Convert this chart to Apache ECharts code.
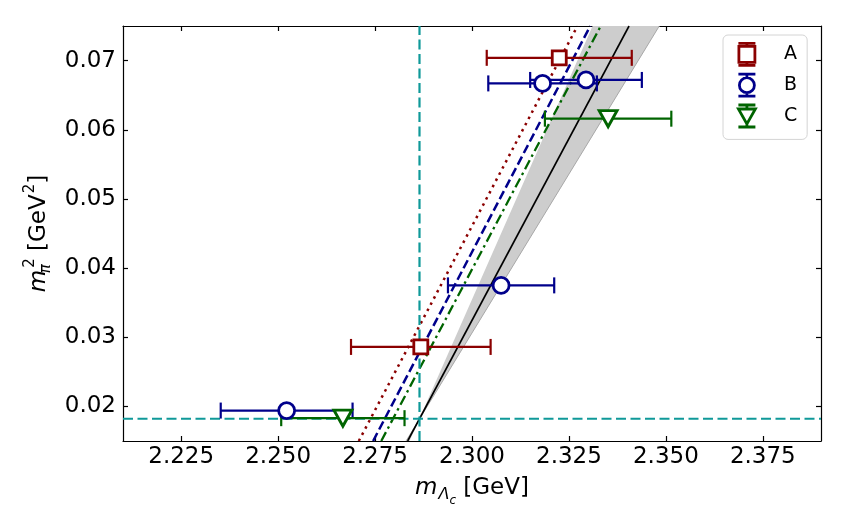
<!DOCTYPE html>
<html>
<head>
<meta charset="utf-8">
<script src="https://cdn.jsdelivr.net/npm/echarts@6/dist/echarts.min.js"></script>
<style>
html,body{margin:0;padding:0;background:#fff;}
#chart{width:847px;height:530px;}
</style>
</head>
<body>
<div id="chart"></div>
<script>
// ---- data ----
const xRange = [2.21, 2.39];
const yRange = [0.015, 0.075];
const xTicks = [2.225, 2.250, 2.275, 2.300, 2.325, 2.350, 2.375];
const yTicks = [0.02, 0.03, 0.04, 0.05, 0.06, 0.07];
// [m_Lambda_c, m_pi^2, x-error]
const seriesA = [[2.2868, 0.0286, 0.0180], [2.3225, 0.0704, 0.0187]];
const seriesB = [[2.2522, 0.0194, 0.0170], [2.3075, 0.0375, 0.0137], [2.3182, 0.0667, 0.0140], [2.3294, 0.0672, 0.0144]];
const seriesC = [[2.2667, 0.0183, 0.0159], [2.3351, 0.0616, 0.0163]];
// fit lines [x, y]
const fitA = [[2.2708, 0.015], [2.3272, 0.075]];
const fitB = [[2.2745, 0.015], [2.3305, 0.075]];
const fitC = [[2.2766, 0.015], [2.3332, 0.075]];
const fitCont = [[2.2834, 0.015], [2.3405, 0.075]];
const bandLeft = [[2.2839, 0.015], [2.3311, 0.075]];
const bandRight = [[2.2830, 0.015], [2.3483, 0.075]];
// physical point
const physX = 2.28646;
const physY = 0.01822;

const cA = '#8b0000', cB = '#00008b', cC = '#006400', cPhys = '#0f9999';
const FONT = 'DejaVu Sans';
const FS = 23;

function errSeries(data, color) {
  return {
    type: 'custom', data: data, z: 3, silent: true,
    renderItem: function (params, api) {
      const x = api.value(0), y = api.value(1), e = api.value(2);
      const p1 = api.coord([x - e, y]), p2 = api.coord([x + e, y]);
      const h = 8, st = {stroke: color, lineWidth: 2.2};
      return {type: 'group', children: [
        {type: 'line', shape: {x1: p1[0], y1: p1[1], x2: p2[0], y2: p2[1]}, style: st},
        {type: 'line', shape: {x1: p1[0], y1: p1[1] - h, x2: p1[0], y2: p1[1] + h}, style: st},
        {type: 'line', shape: {x1: p2[0], y1: p2[1] - h, x2: p2[0], y2: p2[1] + h}, style: st}
      ]};
    }
  };
}
function markerSeries(name, data, color, symbol, size, rotate) {
  return {
    type: 'scatter', name: name, z: 4,
    data: data.map(d => [d[0], d[1]]),
    symbol: symbol, symbolSize: size, symbolRotate: rotate || 0,
    itemStyle: {color: '#fff', borderColor: color, borderWidth: 2.8, opacity: 1}
  };
}
function lineSeries(data, color, type, width) {
  return {
    type: 'line', data: data, showSymbol: false, symbol: 'none', z: 2, silent: true,
    lineStyle: {color: color, width: width || 2.2, type: type, cap: 'butt'}
  };
}

const iconA = 'path://M3.5,1L20.5,1M3.5,23L20.5,23M12,1L12,4M12,20L12,23M4,4L20,4L20,20L4,20Z';
const iconB = 'path://M3.5,1L20.5,1M3.5,23L20.5,23M12,1L12,4.5M12,19.5L12,23M4.5,12A7.5,7.5,0,1,1,19.5,12A7.5,7.5,0,1,1,4.5,12Z';
const iconC = 'path://M3.5,1L20.5,1M3.5,23L20.5,23M12,1L12,5M12,20L12,23M3.5,5L20.5,5L12,20Z';

const axisCommon = {
  axisLine: {onZero: false, lineStyle: {color: '#000', width: 1.2}},
  axisTick: {inside: true, length: 5, lineStyle: {color: '#000', width: 1.2}},
  splitLine: {show: false}
};

const option = {
  animation: false,
  backgroundColor: '#fff',
  grid: {left: 123, right: 26, top: 26, bottom: 89},
  legend: {
    orient: 'vertical', left: 723, top: 35,
    padding: [7, 10, 11, 14], itemGap: 6, itemWidth: 24, itemHeight: 22,
    backgroundColor: 'rgba(255,255,255,0.8)', borderColor: '#d4d4d4', borderWidth: 1, borderRadius: 5,
    textStyle: {fontFamily: FONT, fontSize: 19, color: '#000', padding: [0, 0, 0, 20]},
    data: [
      {name: 'A', icon: iconA, itemStyle: {color: '#fff', borderColor: cA, borderWidth: 2.8}},
      {name: 'B', icon: iconB, itemStyle: {color: '#fff', borderColor: cB, borderWidth: 2.8}},
      {name: 'C', icon: iconC, itemStyle: {color: '#fff', borderColor: cC, borderWidth: 2.8}}
    ]
  },
  xAxis: [
    Object.assign({}, axisCommon, {
      type: 'value', min: xRange[0], max: xRange[1], position: 'bottom',
      axisTick: Object.assign({}, axisCommon.axisTick, {customValues: xTicks}),
      axisLabel: {customValues: xTicks, formatter: v => v.toFixed(3), fontFamily: FONT, fontSize: FS, color: '#000', margin: 5},
      name: '{m|m}{s|Λ}{ss|c}{n| [GeV]}', nameLocation: 'middle', nameGap: 36,
      nameTextStyle: {rich: {
        m: {fontFamily: FONT, fontStyle: 'italic', fontSize: FS, color: '#000', verticalAlign: 'top', padding: [0, 0, 0, 0]},
        s: {fontFamily: FONT, fontStyle: 'italic', fontSize: 16, color: '#000', verticalAlign: 'top', padding: [10, 0, 0, 1]},
        ss: {fontFamily: FONT, fontStyle: 'italic', fontSize: 12, color: '#000', verticalAlign: 'top', padding: [18, 0, 0, 0]},
        n: {fontFamily: FONT, fontSize: FS, color: '#000', verticalAlign: 'top', padding: [0, 0, 0, 0]}
      }}
    }),
    Object.assign({}, axisCommon, {
      type: 'value', min: xRange[0], max: xRange[1], position: 'top',
      axisTick: Object.assign({}, axisCommon.axisTick, {customValues: xTicks}),
      axisLabel: {show: false}
    })
  ],
  yAxis: [
    Object.assign({}, axisCommon, {
      type: 'value', min: yRange[0], max: yRange[1], position: 'left',
      axisTick: Object.assign({}, axisCommon.axisTick, {customValues: yTicks}),
      axisLabel: {customValues: yTicks, formatter: v => v.toFixed(2), fontFamily: FONT, fontSize: FS, color: '#000', margin: 7},
      name: '{m|m}{s|π}{p|2}{n| [GeV}{p|2}{n|]}', nameLocation: 'middle', nameGap: 63, nameRotate: 90,
      nameTextStyle: {rich: {
        m: {fontFamily: FONT, fontStyle: 'italic', fontSize: FS, color: '#000', verticalAlign: 'top', padding: [5, 0, 0, 0]},
        s: {fontFamily: FONT, fontStyle: 'italic', fontSize: 15, color: '#000', verticalAlign: 'top', padding: [16, 0, 0, 1], width: 0.01},
        p: {fontFamily: FONT, fontSize: 15, color: '#000', verticalAlign: 'top', padding: [0, 0, 0, 1]},
        n: {fontFamily: FONT, fontSize: FS, color: '#000', verticalAlign: 'top', padding: [5, 0, 0, 0]}
      }}
    }),
    Object.assign({}, axisCommon, {
      type: 'value', min: yRange[0], max: yRange[1], position: 'right',
      axisTick: Object.assign({}, axisCommon.axisTick, {customValues: yTicks}),
      axisLabel: {show: false}
    })
  ],
  series: [
    {
      type: 'custom', silent: true, z: 1, data: [0],
      renderItem: function (params, api) {
        const poly = [bandLeft[0], bandLeft[1], bandRight[1], bandRight[0]].map(p => api.coord(p));
        const edge = bandRight.map(p => api.coord(p));
        return {type: 'group', children: [
          {type: 'polygon', shape: {points: poly}, style: {fill: '#cdcdcd', stroke: null}},
          {type: 'polyline', shape: {points: edge}, style: {stroke: '#a8a8a8', lineWidth: 1, fill: null}}
        ]};
      }
    },
    lineSeries(fitCont, '#000', 'solid', 1.6),
    lineSeries(fitA, cA, [2.5, 4.5], 2.5),
    lineSeries(fitB, cB, [9, 4], 2.5),
    lineSeries(fitC, cC, [10, 4, 2.5, 4], 2.3),
    lineSeries([[physX, yRange[0]], [physX, yRange[1]]], cPhys, [10, 4.5], 2.2),
    lineSeries([[xRange[0], physY], [xRange[1], physY]], cPhys, [10, 4.5], 2.2),
    errSeries(seriesA, cA),
    errSeries(seriesB, cB),
    errSeries(seriesC, cC),
    markerSeries('A', seriesA, cA, 'rect', 14),
    markerSeries('B', seriesB, cB, 'circle', 16),
    markerSeries('C', seriesC, cC, 'triangle', [18, 16], 180)
  ]
};
const chart = echarts.init(document.getElementById('chart'), null, {renderer: 'canvas'});
chart.setOption(option);
</script>
</body>
</html>
